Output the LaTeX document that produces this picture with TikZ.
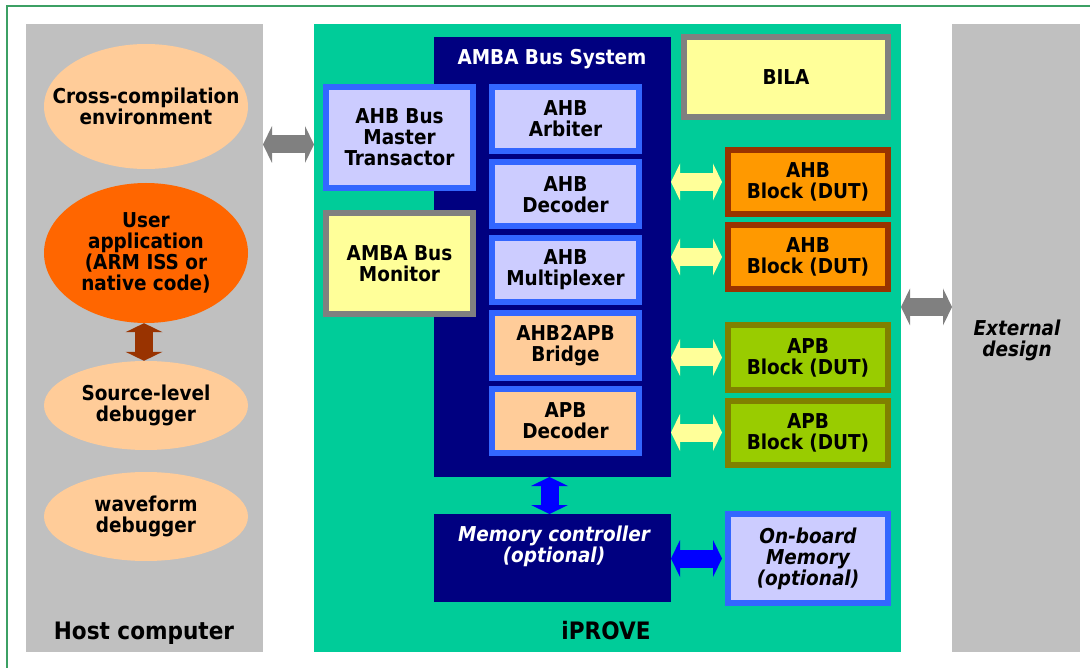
\documentclass[tikz,border=0pt]{standalone}
\usepackage{fontspec}
\setmainfont{DejaVu Sans Condensed}[
  BoldFont={DejaVu Sans Condensed Bold},
  ItalicFont={DejaVu Sans Condensed Oblique},
  BoldItalicFont={DejaVu Sans Condensed Bold Oblique}]
\usetikzlibrary{shapes.geometric,arrows.meta}

\definecolor{framegreen}{RGB}{60,160,100}
\definecolor{hostgray}{RGB}{192,192,192}
\definecolor{iprovegreen}{RGB}{0,204,153}
\definecolor{busnavy}{RGB}{0,0,128}
\definecolor{bblue}{RGB}{51,102,255}
\definecolor{lav}{RGB}{204,204,255}
\definecolor{mgray}{RGB}{128,128,128}
\definecolor{lyellow}{RGB}{255,255,153}
\definecolor{peach}{RGB}{255,204,153}
\definecolor{dutorange}{RGB}{255,153,0}
\definecolor{dutbrown}{RGB}{153,51,0}
\definecolor{apbgreen}{RGB}{153,204,0}
\definecolor{apbolive}{RGB}{128,128,0}
\definecolor{userorange}{RGB}{255,102,0}

\tikzset{
  txt/.style={font=\bfseries\fontsize{20.5}{21}\selectfont, align=center, text=black},
  itxt/.style={font=\bfseries\itshape\fontsize{20.5}{21}\selectfont, align=center},
  bigtxt/.style={font=\bfseries\fontsize{24}{25}\selectfont, text=black},
  panel/.style={rectangle, inner sep=0pt, outer sep=0pt},
  blk/.style={txt, rectangle, inner sep=0pt, line width=6pt,
    minimum width=147pt, minimum height=64pt},
  oval/.style={ellipse, inner sep=0pt, minimum width=204pt},
  fatarrow/.style={line width=18pt,
    {Triangle[length=9pt,width=37pt,line width=0pt]}-{Triangle[length=9pt,width=37pt,line width=0pt]}},
}

\begin{document}
\begin{tikzpicture}[x=1pt, y=-1pt]
  \useasboundingbox (0,0) rectangle (1090,668);
  \draw[framegreen, line width=1.5pt] (7,668) -- (7,6) -- (1090,6);

  % Panels
  \node[panel, fill=hostgray, minimum width=237pt, minimum height=628pt] (host) at (144.5,338) {};
  \node[panel, fill=iprovegreen, minimum width=587pt, minimum height=628pt] (iprove) at (607.5,338) {};
  \node[panel, fill=hostgray, minimum width=128pt, minimum height=628pt] (ext) at (1016,338) {};

  \node[bigtxt, anchor=base] (hostlbl) at (144,639) {Host computer};
  \node[bigtxt, anchor=base] (iprovelbl) at (606,639) {iPROVE};
  \node[itxt] (extlbl) at (1017,340) {External\\design};

  % Host computer
  \node[oval, fill=peach, minimum height=125pt,
    label={[txt]center:Cross-compilation\\environment}] (cross) at (146,106.5) {};
  \node[oval, fill=userorange, minimum height=140pt,
    label={[txt]center:User\\application\\(ARM ISS or\\native code)}] (user) at (146,253) {};
  \node[oval, fill=peach, minimum height=89pt,
    label={[txt]center:Source-level\\debugger}] (source) at (146,405.5) {};
  \node[oval, fill=peach, minimum height=89pt,
    label={[txt]center:waveform\\debugger}] (wave) at (146,516.5) {};

  % AMBA bus system
  \node[panel, fill=busnavy, minimum width=237pt, minimum height=440pt] (amba) at (552.5,257) {};
  \node[txt, text=white, anchor=base] (ambalbl) at (552,65) {AMBA Bus System};
  \node[blk, draw=bblue, fill=lav] (arb) at (565.5,119) {AHB\\Arbiter};
  \node[blk, draw=bblue, fill=lav] (dec) at (565.5,194.5) {AHB\\Decoder};
  \node[blk, draw=bblue, fill=lav] (mux) at (565.5,270) {AHB\\Multiplexer};
  \node[blk, draw=bblue, fill=peach] (bridge) at (565.5,345.5) {AHB2APB\\Bridge};
  \node[blk, draw=bblue, fill=peach] (apbdec) at (565.5,421) {APB\\Decoder};

  \node[panel, fill=busnavy, minimum width=237pt, minimum height=88pt] (memctl) at (552.5,558) {};
  \node[itxt, text=white] (memlbl) at (554,546) {Memory controller\\(optional)};

  \node[blk, draw=bblue, fill=lav, minimum height=101pt] (master) at (399.5,137.5) {AHB Bus\\Master\\Transactor};
  \node[blk, draw=mgray, fill=lyellow, minimum height=101pt] (monitor) at (399.5,263.5) {AMBA Bus\\Monitor};
  \node[blk, draw=mgray, fill=lyellow, minimum width=204pt, minimum height=80pt] (bila) at (786,77) {BILA};

  % Blocks under test
  \node[blk, draw=dutbrown, fill=dutorange, minimum width=160pt] (ahbA) at (808,182) {AHB\\Block (DUT)};
  \node[blk, draw=dutbrown, fill=dutorange, minimum width=160pt] (ahbB) at (808,257) {AHB\\Block (DUT)};
  \node[blk, draw=apbolive, fill=apbgreen, minimum width=160pt] (apbA) at (808,357.5) {APB\\Block (DUT)};
  \node[blk, draw=apbolive, fill=apbgreen, minimum width=160pt] (apbB) at (808,432.5) {APB\\Block (DUT)};
  \node[blk, itxt, draw=bblue, fill=lav, minimum width=160pt, minimum height=89pt] (onboard) at (808,558.5) {On-board\\Memory\\(optional)};

  % Links
  \coordinate (hostlink) at (0,144.5);
  \coordinate (extlink) at (0,307);
  \draw[fatarrow, mgray] (host.east |- hostlink) -- (iprove.west |- hostlink);
  \draw[fatarrow, mgray] (iprove.east |- extlink) -- (ext.west |- extlink);
  \draw[fatarrow, lyellow, shorten >=3pt] (amba.east |- ahbA) -- (ahbA.west);
  \draw[fatarrow, lyellow, shorten >=3pt] (amba.east |- ahbB) -- (ahbB.west);
  \draw[fatarrow, lyellow, shorten >=3pt] (amba.east |- apbA) -- (apbA.west);
  \draw[fatarrow, lyellow, shorten >=3pt] (amba.east |- apbB) -- (apbB.west);
  \draw[fatarrow, blue, shorten >=3pt] (memctl.east |- onboard) -- (onboard.west);
  \draw[fatarrow, blue] ([xshift=-3pt]amba.south) -- ([xshift=-3pt]memctl.north);
  \draw[fatarrow, dutbrown] ([xshift=-2pt]user.south) -- ([xshift=-2pt]source.north);
\end{tikzpicture}
\end{document}
